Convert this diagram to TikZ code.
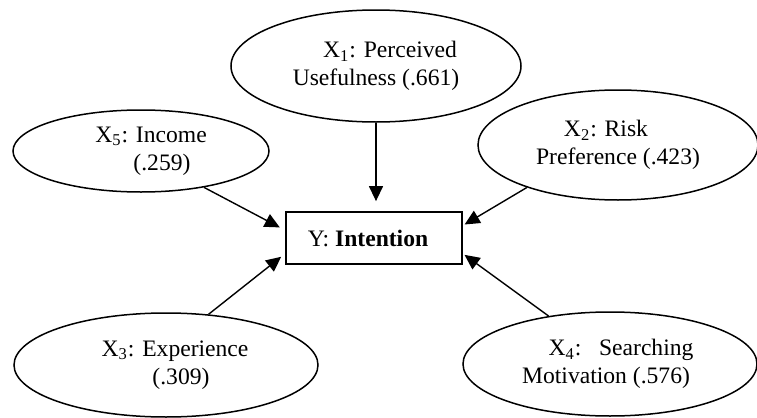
\documentclass[tikz,border=0pt]{standalone}
\usepackage{fontspec}
\setmainfont{Liberation Serif}
\usetikzlibrary{shapes.geometric}
\usetikzlibrary{arrows.meta}

\begin{document}
\begin{tikzpicture}
	[
		x=0.5pt, y=-0.5pt,
		% Make a style for an explanatory variable.
		xvar/.style={draw, ellipse, line width=0.75pt, inner sep=0pt, align=center,
			font=\fontsize{11.8}{14}\selectfont},
		% And one for the dependent variable.
		yvar/.style={draw, rectangle, line width=0.9pt, inner sep=0pt,
			minimum width=88pt, minimum height=26pt,
			font=\fontsize{11.8}{14}\selectfont},
		% And one for an effect.
		effect/.style={line width=0.7pt, -{Triangle[length=7.5pt,width=7pt]}}
	]
		\useasboundingbox (0,0) rectangle (757,418);
		\node
		[
			xvar,
			minimum width=145pt,
			minimum height=56pt,
		] (x1) at (376,66) {\hspace*{14pt}X\textsubscript{1}: Perceived\\Usefulness (.661)};
		\node
		[
			xvar,
			minimum width=140pt,
			minimum height=55pt,
		] (x2) at (618,145) {X\textsubscript{2}: Risk\hspace*{12pt}\\Preference (.423)};
		\node
		[
			xvar,
			minimum width=152pt,
			minimum height=52pt,
		] (x3) at (166,365) {\hspace*{9pt}X\textsubscript{3}: Experience\\\hspace*{15pt}(.309)};
		\node
		[
			xvar,
			minimum width=147pt,
			minimum height=52pt,
		] (x4) at (610,364) {\hspace*{11pt}X\textsubscript{4}:\ \ \ Searching\\Motivation (.576)\hspace*{4pt}};
		\node
		[
			xvar,
			minimum width=128pt,
			minimum height=41pt,
		] (x5) at (141,151) {\hspace*{10pt}X\textsubscript{5}: Income\\\hspace*{21pt}(.259)};
		\node [yvar] (y) at (374,238) {Y: \textbf{Intention}\hspace*{6pt}};

		% Draw effects
		\draw[effect, shorten >=5pt] (x1.south) -- (x1.south |- y.north);
		\draw[effect, shorten >=1pt] (x2.-155) -- (y.8);
		\draw[effect, shorten >=2.5pt] (x3.50) -- (y.190);
		\draw[effect, shorten >=1pt] (x4.142) -- (y.-10);
		\draw[effect, shorten >=3pt] (x5.-30) -- (y.175);
	\end{tikzpicture}
\end{document}
